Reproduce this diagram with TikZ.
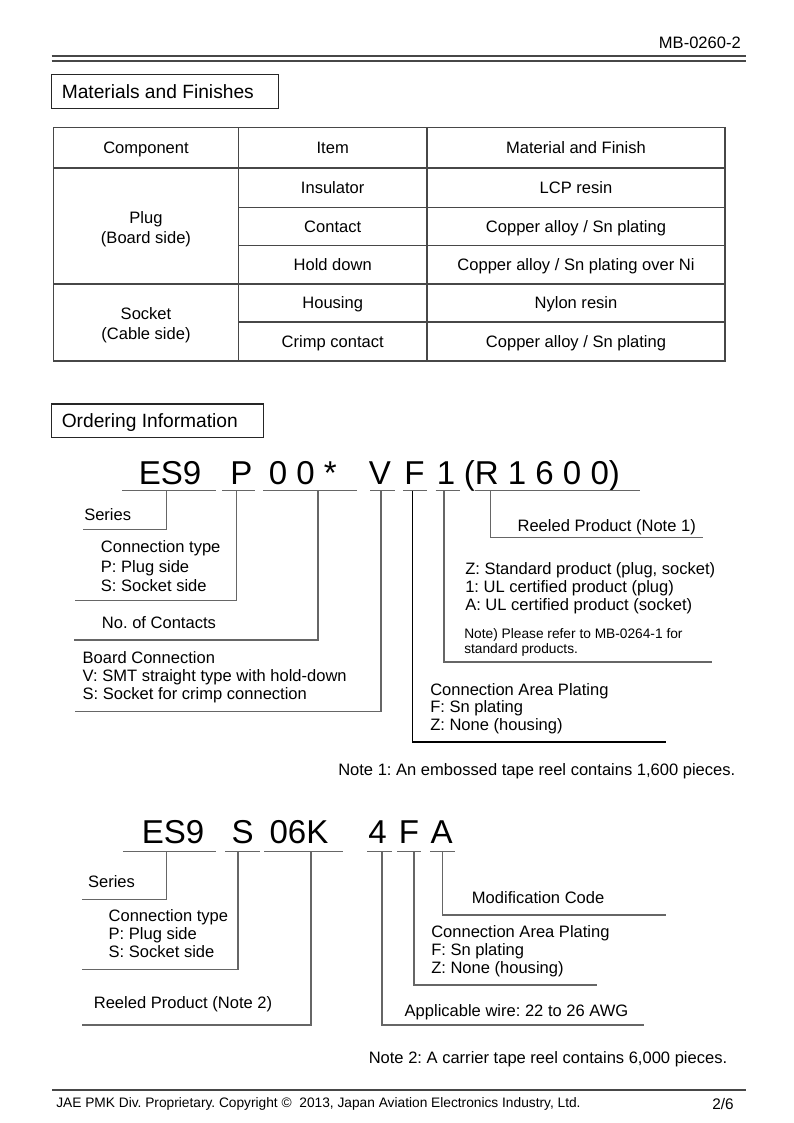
\documentclass[tikz,border=0pt]{standalone}
\usepackage{fontspec}
\setmainfont{Liberation Sans}
\frenchspacing
\newcommand\myfA{\fontsize{12.4pt}{14pt}\selectfont}
\newcommand\myfT{\fontsize{14.4pt}{17pt}\selectfont}
\newcommand\myfS{\fontsize{10.3pt}{12pt}\selectfont}
\newcommand\myfB{\fontsize{24.8pt}{28pt}\selectfont}
\colorlet{lngray}{black!60}
\colorlet{tblgray}{black!72}
\colorlet{hdrgray}{black!72}
\begin{document}
\frenchspacing
\begin{tikzpicture}[x=0.75pt,y=-0.75pt,
  lbl/.style={anchor=base west, inner sep=0pt, font=\myfA, yshift=-4.46pt},
  ctr/.style={anchor=base, inner sep=0pt, font=\myfA, yshift=-4.46pt},
  sml/.style={anchor=base west, inner sep=0pt, font=\myfS, yshift=-3.7pt},
  ttl/.style={anchor=base west, inner sep=0pt, font=\myfT, yshift=-5.2pt},
  big/.style={anchor=base, inner sep=0pt, font=\myfB},
  bigw/.style={anchor=base west, inner sep=0pt, font=\myfB},
  ln/.style={draw=lngray, line width=1.1pt},
  lnk/.style={draw=black, line width=1.0pt},
  tbl/.style={draw=tblgray, line width=1.1pt},
  tbox/.style={draw=black!85, line width=0.8pt}]
\useasboundingbox (0,0) rectangle (793,1123);

% ---------- header ----------
\node[anchor=base east, inner sep=0pt, font=\myfA] (docno) at (741,48.3) {MB-0260-2};
\draw[hdrgray, line width=1.5pt] (51.5,56.3) -- (746,56.3);
\draw[hdrgray, line width=1.9pt] (51.5,60.9) -- (746,60.9);

% ---------- Materials and Finishes ----------
\draw[tbox] (51.5,74.5) rectangle (278.5,108.5);
\node[ttl] (mattitle) at (61.5,91.5) {Materials and Finishes};

\draw[tbl] (53.5,127.5) rectangle (725,361);
\draw[tbl] (53.5,168) -- (725,168);
\draw[tbl] (238.5,207.5) -- (725,207.5);
\draw[tbl] (238.5,245.5) -- (725,245.5);
\draw[tbl] (53.5,284) -- (725,284);
\draw[tbl] (238.5,322) -- (725,322);
\draw[tbl] (238.5,127.5) -- (238.5,361);
\draw[tbl] (427,127.5) -- (427,361);

\node[ctr] (hcomp) at (146,148) {Component};
\node[ctr] (hitem) at (332.7,148) {Item};
\node[ctr] (hmat) at (576,148) {Material and Finish};
\node[ctr] (plug1) at (146,217.5) {Plug};
\node[ctr] (plug2) at (146,238) {(Board side)};
\node[ctr] (sock1) at (146,313.3) {Socket};
\node[ctr] (sock2) at (146,333.5) {(Cable side)};
\node[ctr] (i1) at (332.7,188) {Insulator};
\node[ctr] (m1) at (576,188) {LCP resin};
\node[ctr] (i2) at (332.7,227) {Contact};
\node[ctr] (m2) at (576,227) {Copper alloy / Sn plating};
\node[ctr] (i3) at (332.7,265) {Hold down};
\node[ctr] (m3) at (576,265) {Copper alloy / Sn plating over Ni};
\node[ctr] (i4) at (332.7,303) {Housing};
\node[ctr] (m4) at (576,303) {Nylon resin};
\node[ctr] (i5) at (332.7,342) {Crimp contact};
\node[ctr] (m5) at (576,342) {Copper alloy / Sn plating};

% ---------- Ordering Information ----------
\draw[tbox] (51.5,404) rectangle (263.5,437.5);
\node[ttl] (ordtitle) at (61.5,421) {Ordering Information};

% code 1
\node[bigw] (k1es) at (138.6,484) {ES9};
\node[bigw] (k1p) at (230,484) {P};
\node[bigw] (k1z) at (268.6,484) {0 0 *};
\node[bigw] (k1v) at (368.5,484) {V};
\node[bigw] (k1f) at (404,484) {F};
\node[bigw] (k1o) at (436.5,484) {1};
\node[bigw] (k1r) at (463.5,484) {(R 1 6 0 0)};

% underlines code 1
\coordinate (u1a) at (122,490.7);   \coordinate (u1b) at (216,490.7);
\coordinate (u1c) at (222.3,490.7); \coordinate (u1d) at (255.3,490.7);
\coordinate (u1e) at (263.3,490.7); \coordinate (u1f) at (356.7,490.7);
\coordinate (u1g) at (370,490.7);   \coordinate (u1h) at (395,490.7);
\coordinate (u1i) at (403.3,490.7); \coordinate (u1j) at (427.3,490.7);
\coordinate (u1k) at (435.7,490.7); \coordinate (u1l) at (460,490.7);
\coordinate (u1m) at (475,490.7);   \coordinate (u1n) at (640,490.7);
\draw[ln] (u1a) -- (u1b);
\draw[ln] (u1c) -- (u1d);
\draw[ln] (u1e) -- (u1f);
\draw[ln] (u1g) -- (u1h);
\draw[ln] (u1i) -- (u1j);
\draw[ln] (u1k) -- (u1l);
\draw[ln] (u1m) -- (u1n);

% leaders code 1
\coordinate (t1es) at (166.7,490.7); \coordinate (e1es) at (82.7,529.3);
\coordinate (t1p) at (236.7,490.7);  \coordinate (e1p) at (75,600.5);
\coordinate (t1z) at (318,490.7);    \coordinate (e1z) at (74,640);
\coordinate (t1v) at (381,490.7);    \coordinate (e1v) at (75,711.5);
\coordinate (t1f) at (412.7,490.7);  \coordinate (e1f) at (666,742);
\coordinate (t1o) at (444,490.7);    \coordinate (e1o) at (712,662);
\coordinate (t1r) at (490.7,490.7);  \coordinate (e1r) at (703,537.7);
\draw[ln] (t1es) |- (e1es);
\draw[ln] (t1p) |- (e1p);
\draw[ln] (t1z) |- (e1z);
\draw[ln] (t1v) |- (e1v);
\draw[lnk] (t1f) |- (e1f);
\draw[ln] (t1o) |- (e1o);
\draw[ln] (t1r) |- (e1r);

% labels code 1
\node[lbl] (s1) at (84,514.5) {Series};
\node[lbl] (ct1) at (100.7,546.5) {Connection type};
\node[lbl] (ct2) at (100.7,566.5) {P: Plug side};
\node[lbl] (ct3) at (100.7,586) {S: Socket side};
\node[lbl] (nc) at (101.7,622.5) {No. of Contacts};
\node[lbl] (bc1) at (82.4,658) {Board Connection};
\node[lbl] (bc2) at (82.4,676) {V: SMT straight type with hold-down};
\node[lbl] (bc3) at (82.4,693.5) {S: Socket for crimp connection};
\node[lbl] (rp1) at (517.3,526) {Reeled Product (Note 1)};
\node[lbl] (st1) at (465,568.3) {Z: Standard product (plug, socket)};
\node[lbl] (st2) at (465,586.7) {1: UL certified product (plug)};
\node[lbl] (st3) at (465,605) {A: UL certified product (socket)};
\node[sml] (nt1) at (464,634) {Note) Please refer to MB-0264-1 for};
\node[sml] (nt2) at (464,648.3) {standard products.};
\node[lbl] (ca1) at (430,689.3) {Connection Area Plating};
\node[lbl] (ca2) at (430,706.7) {F: Sn plating};
\node[lbl] (ca3) at (430,725) {Z: None (housing)};
\node[lbl] (note1) at (338,769.3) {Note 1: An embossed tape reel contains 1,600 pieces.};

% code 2
\node[big] (k2es) at (173,843) {ES9};
\node[big] (k2s) at (242.7,843) {S};
\node[big] (k2n) at (299,843) {06K};
\node[big] (k2w) at (377.5,843) {4};
\node[big] (k2f) at (409,843) {F};
\node[big] (k2a) at (441.6,843) {A};

\coordinate (u2a) at (122.8,851.7); \coordinate (u2b) at (216,851.7);
\coordinate (u2c) at (225,851.7);   \coordinate (u2d) at (259.6,851.7);
\coordinate (u2e) at (264,851.7);   \coordinate (u2f) at (342.5,851.7);
\coordinate (u2g) at (367,851.7);   \coordinate (u2h) at (392,851.7);
\coordinate (u2i) at (397,851.7);   \coordinate (u2j) at (421,851.7);
\coordinate (u2k) at (430,851.7);   \coordinate (u2l) at (454.6,851.7);
\draw[ln] (u2a) -- (u2b);
\draw[ln] (u2c) -- (u2d);
\draw[ln] (u2e) -- (u2f);
\draw[ln] (u2g) -- (u2h);
\draw[ln] (u2i) -- (u2j);
\draw[ln] (u2k) -- (u2l);

\coordinate (t2es) at (166.7,851.7); \coordinate (e2es) at (82.4,899.3);
\coordinate (t2s) at (238,851.7);    \coordinate (e2s) at (82.4,969.3);
\coordinate (t2n) at (311,851.7);    \coordinate (e2n) at (82.4,1025);
\coordinate (t2w) at (382,851.7);    \coordinate (e2w) at (644.3,1025);
\coordinate (t2f) at (414,851.7);    \coordinate (e2f) at (597,985);
\coordinate (t2a) at (442.5,851.7);  \coordinate (e2a) at (666,915);
\draw[ln] (t2es) |- (e2es);
\draw[ln] (t2s) |- (e2s);
\draw[ln] (t2n) |- (e2n);
\draw[ln] (t2w) |- (e2w);
\draw[ln] (t2f) |- (e2f);
\draw[ln] (t2a) |- (e2a);

\node[lbl] (s2) at (87.8,881.7) {Series};
\node[lbl] (cu1) at (108.4,916) {Connection type};
\node[lbl] (cu2) at (108.4,934) {P: Plug side};
\node[lbl] (cu3) at (108.4,951.7) {S: Socket side};
\node[lbl] (rp2) at (93.6,1002.7) {Reeled Product (Note 2)};
\node[lbl] (aw) at (404.4,1010.7) {Applicable wire: 22 to 26 AWG};
\node[lbl] (cb1) at (431,931.7) {Connection Area Plating};
\node[lbl] (cb2) at (431,950) {F: Sn plating};
\node[lbl] (cb3) at (431,967.7) {Z: None (housing)};
\node[lbl] (mc) at (471.7,897.3) {Modification Code};
\node[lbl] (note2) at (368.5,1057.3) {Note 2: A carrier tape reel contains 6,000 pieces.};

% ---------- footer ----------
\draw[hdrgray, line width=1.9pt] (52.4,1090) -- (746,1090);
\node[anchor=base west, inner sep=0pt, font=\myfS] (foot) at (56,1107) {JAE PMK Div. Proprietary. Copyright \textcopyright{}\ \ 2013, Japan Aviation Electronics Industry, Ltd.};
\node[anchor=base east, inner sep=0pt, font=\fontsize{11.5pt}{13pt}\selectfont] (page) at (734,1109) {2/6};
\end{tikzpicture}
\end{document}
